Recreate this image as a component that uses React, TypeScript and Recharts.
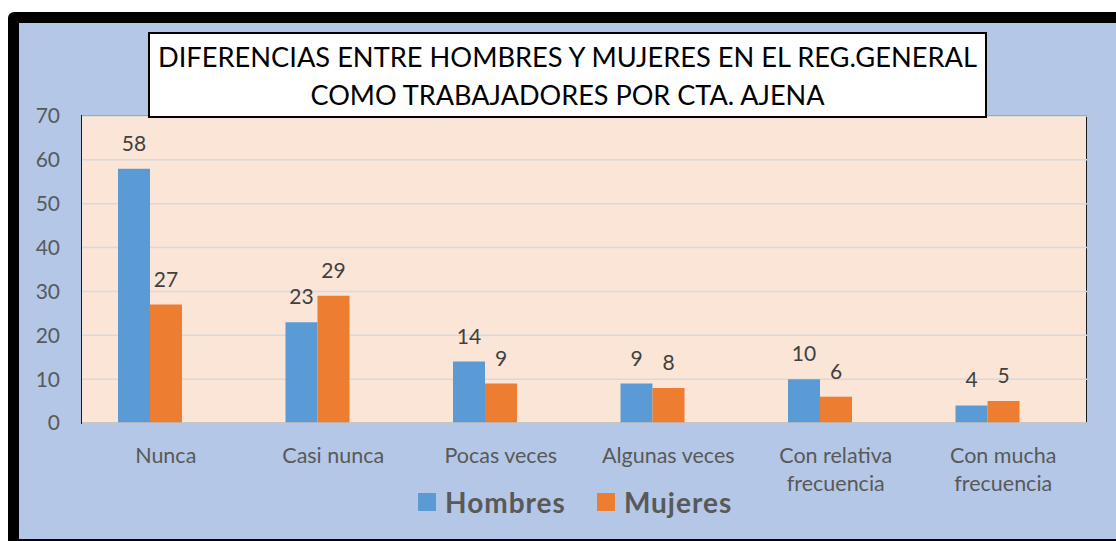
import React from "react";
import { BarChart, Bar, XAxis, YAxis, CartesianGrid, Legend, LabelList } from "recharts";

const categories = ["Nunca", "Casi nunca", "Pocas veces", "Algunas veces", "Con relativa frecuencia", "Con mucha frecuencia"];
const hombres = [58, 23, 14, 9, 10, 4];
const mujeres = [27, 29, 9, 8, 6, 5];
// the original Excel chart reserves a third (empty) slot in each group
const vacio = [null, null, null, null, null, null];
const yTicks = [0, 10, 20, 30, 40, 50, 60, 70];
const titleLines = ["DIFERENCIAS ENTRE HOMBRES Y MUJERES EN EL REG.GENERAL", "COMO TRABAJADORES POR CTA. AJENA"];
const seriesNames = ["Hombres", "Mujeres", "Vacio"];

const BLUE = "#5b9bd5";
const ORANGE = "#ed7d31";
const FONT = "Lato, 'Open Sans', sans-serif";

const data = categories.map((c, i) => ({ name: c, Hombres: hombres[i], Mujeres: mujeres[i], Vacio: vacio[i] }));

const splitLabel = (s: string): string[] => {
  const words = s.split(" ");
  if (words.length > 2) return [words.slice(0, -1).join(" "), words[words.length - 1]];
  return [s];
};

const XTick = (props: any) => {
  const { x, y, payload } = props;
  const lines = splitLabel(String(payload.value));
  return (
    <g>
      {lines.map((l, i) => (
        <text key={i} x={x} y={y + 40 + i * 28} textAnchor="middle" fill="#595959" fontSize={21.5} fontFamily={FONT}>
          {l}
        </text>
      ))}
    </g>
  );
};

const LegendContent = (props: any) => {
  const payload = (props.payload || []).filter((p: any) => p.type !== "none");
  return (
    <div style={{ display: "flex", alignItems: "center", height: 44, paddingLeft: 418, fontFamily: FONT }}>
      {payload.map((p: any, i: number) => (
        <div key={i} style={{ display: "flex", alignItems: "center", marginRight: 31 }}>
          <div style={{ width: 18, height: 18, background: p.color, marginRight: 9 }} />
          <span style={{ fontSize: 28, fontWeight: 700, color: "#595959", lineHeight: "44px", letterSpacing: 1 }}>{p.value}</span>
        </div>
      ))}
    </div>
  );
};

export default function App() {
  return (
    <div style={{ position: "absolute", left: 0, top: 0, width: 1116, height: 541, overflow: "hidden", background: "#fff" }}>
      <div
        style={{
          position: "absolute",
          left: 8,
          top: 12,
          width: 1200,
          height: 538,
          boxSizing: "border-box",
          border: "11px solid #000",
          borderRadius: 6,
          background: "#b4c7e7",
        }}
      />
      <div
        style={{
          position: "absolute",
          left: 81,
          top: 115,
          width: 1006,
          height: 309,
          boxSizing: "border-box",
          borderTop: "1.5px solid #1a1a1a",
          borderLeft: "1.5px solid #1a1a1a",
          borderRight: "1.5px solid #1a1a1a",
          background: "#fbe5d6",
        }}
      />
      <div style={{ position: "absolute", left: 0, top: 0 }}>
        <BarChart
          width={1116}
          height={541}
          data={data}
          margin={{ top: 116, right: 29, bottom: 0, left: 0 }}
          barGap={0}
          barSize={32}
        >
          <CartesianGrid horizontal vertical={false} stroke="#d9d9d9" strokeWidth={1.5} />
          <XAxis
            dataKey="name"
            height={118}
            tickLine={false}
            tickSize={0}
            tickMargin={0}
            axisLine={{ stroke: "#bfbfbf", strokeWidth: 1.5 }}
            tick={<XTick />}
            interval={0}
          />
          <YAxis
            width={82}
            domain={[0, 70]}
            ticks={yTicks}
            tickLine={false}
            tickMargin={16}
            axisLine={false}
            tick={{ fill: "#595959", fontSize: 21, fontFamily: FONT }}
          />
          <Legend
            layout="horizontal"
            verticalAlign="middle"
            align="center"
            wrapperStyle={{ top: 480, left: 0, width: 1116 }}
            content={<LegendContent />}
          />
          <Bar dataKey={seriesNames[0]} fill={BLUE} isAnimationActive={false}>
            <LabelList dataKey={seriesNames[0]} position="top" offset={18} fill="#404040" fontSize={21} fontFamily={FONT} />
          </Bar>
          <Bar dataKey={seriesNames[1]} fill={ORANGE} isAnimationActive={false}>
            <LabelList dataKey={seriesNames[1]} position="top" offset={18} fill="#404040" fontSize={21} fontFamily={FONT} />
          </Bar>
          <Bar dataKey={seriesNames[2]} fill="transparent" legendType="none" isAnimationActive={false} />
        </BarChart>
      </div>
      <div
        style={{
          position: "absolute",
          left: 148,
          top: 32,
          width: 839,
          height: 86,
          boxSizing: "border-box",
          border: "2.5px solid #000",
          background: "#fff",
        }}
      >
        <svg width={839} height={86} style={{ position: "absolute", left: -2.5, top: -2.5 }}>
          <text x={419.5} y={66.5 - 32} textAnchor="middle" fontFamily={FONT} fontSize={26} fill="#000" textLength={819} lengthAdjust="spacingAndGlyphs">
            {titleLines[0]}
          </text>
          <text x={419.5} y={105 - 32} textAnchor="middle" fontFamily={FONT} fontSize={26} fill="#000" textLength={514} lengthAdjust="spacingAndGlyphs">
            {titleLines[1]}
          </text>
        </svg>
      </div>
    </div>
  );
}
